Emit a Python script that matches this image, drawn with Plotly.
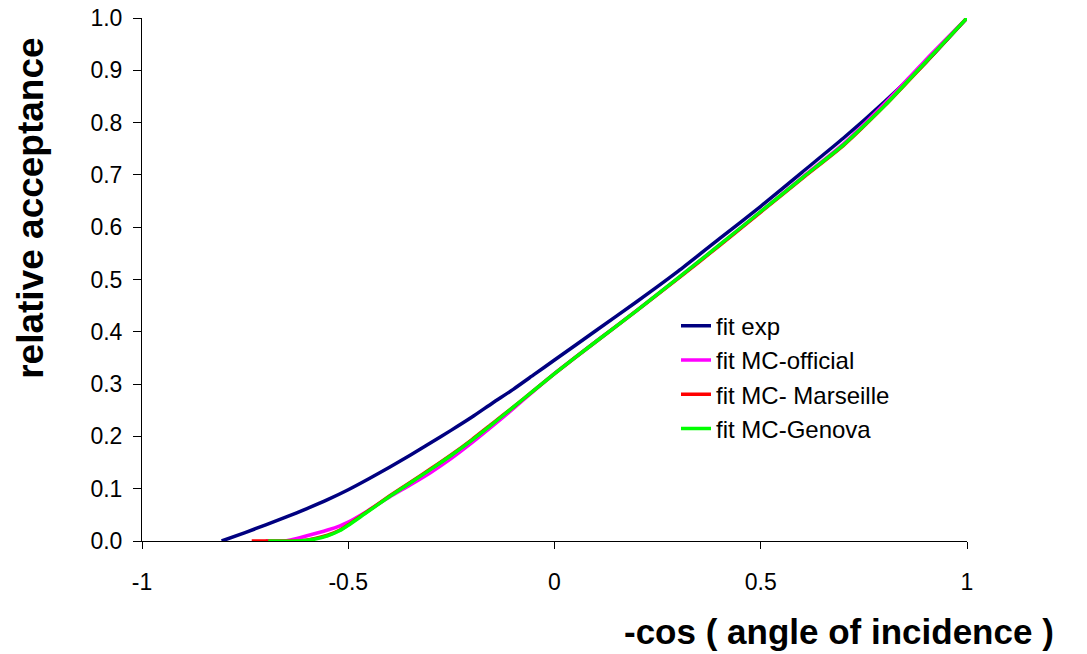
import plotly.graph_objects as go

# ---- data ----
exp_x = [-0.807, -0.75, -0.70, -0.65, -0.60, -0.55, -0.50, -0.45, -0.40, -0.35, -0.30, -0.25,
         -0.20, -0.15, -0.10, -0.05, 0.0, 0.1, 0.2, 0.3, 0.4, 0.5, 0.6, 0.7, 0.8, 0.9, 1.0]
exp_y = [0.0, 0.016, 0.031, 0.046, 0.062, 0.079, 0.098, 0.119, 0.141, 0.164, 0.188, 0.212,
         0.237, 0.264, 0.290, 0.318, 0.346, 0.402, 0.458, 0.516, 0.578, 0.640, 0.705, 0.770,
         0.840, 0.915, 1.0]

off_x = [-0.70, -0.66, -0.64, -0.60, -0.55, -0.52, -0.50, -0.46, -0.44, -0.40, -0.35, -0.30,
         -0.25, -0.20, -0.15, -0.10, -0.05, 0.0, 0.1, 0.2, 0.3, 0.4, 0.5, 0.6, 0.7, 0.8, 0.9, 1.0]
off_y = [0.0, 0.0, 0.002, 0.010, 0.021, 0.029, 0.036, 0.054, 0.064, 0.084, 0.107, 0.131,
         0.158, 0.188, 0.220, 0.253, 0.287, 0.320, 0.381, 0.441, 0.503, 0.566, 0.630, 0.695,
         0.759, 0.836, 0.920, 1.0]

mar_x = [-0.734, -0.66, -0.62, -0.58, -0.55, -0.52, -0.50, -0.46, -0.40, -0.35, -0.30, -0.25,
         -0.20, -0.15, -0.10, -0.05, 0.0, 0.1, 0.2, 0.3, 0.4, 0.5, 0.6, 0.7, 0.8, 0.9, 1.0]
mar_y = [0.0, 0.0, 0.0, 0.005, 0.011, 0.021, 0.031, 0.053, 0.086, 0.112, 0.138, 0.165,
         0.194, 0.225, 0.256, 0.288, 0.320, 0.381, 0.441, 0.502, 0.565, 0.629, 0.693, 0.756,
         0.832, 0.915, 1.0]

gen_x = [-0.694, -0.62, -0.58, -0.55, -0.52, -0.50, -0.46, -0.40, -0.35, -0.30, -0.25, -0.20,
         -0.15, -0.10, -0.05, 0.0, 0.1, 0.2, 0.3, 0.4, 0.5, 0.6, 0.7, 0.8, 0.9, 1.0]
gen_y = [0.0, 0.0, 0.004, 0.010, 0.020, 0.030, 0.052, 0.085, 0.111, 0.137, 0.164, 0.193,
         0.224, 0.256, 0.288, 0.320, 0.381, 0.441, 0.503, 0.566, 0.630, 0.694, 0.757, 0.832,
         0.916, 1.0]

x_tickvals = [-1, -0.5, 0, 0.5, 1]
x_ticktext = ["-1", "-0.5", "0", "0.5", "1"]
y_tickvals = [0.0, 0.1, 0.2, 0.3, 0.4, 0.5, 0.6, 0.7, 0.8, 0.9, 1.0]

series = [
    ("fit exp", exp_x, exp_y, "#000080"),
    ("fit MC-official", off_x, off_y, "#FF00FF"),
    ("fit MC- Marseille", mar_x, mar_y, "#FF0000"),
    ("fit MC-Genova", gen_x, gen_y, "#00FF00"),
]

FONT = "Liberation Sans, Arial, Helvetica, sans-serif"

fig = go.Figure()
for i, (name, xs, ys, col) in enumerate(series):
    fig.add_trace(go.Scatter(x=xs, y=ys, mode="lines", name=name,
                             line=dict(color=col, width=3.5, shape="spline", smoothing=0.5),
                             legendgroup=f"g{i}"))

L, R, T, B = 142, 120, 18, 112.5
pw, ph = 1087 - L - R, 654 - T - B

fig.update_layout(
    width=1087, height=654,
    margin=dict(l=L, r=R, t=T, b=B, autoexpand=False),
    paper_bgcolor="white", plot_bgcolor="white",
    font=dict(family=FONT, color="black", size=23),
    showlegend=True,
    legend=dict(x=(676 - L) / pw, y=(541.5 - 304) / ph, xanchor="left", yanchor="top",
                bgcolor="rgba(0,0,0,0)", borderwidth=0,
                font=dict(family=FONT, size=24, color="black"),
                tracegroupgap=0, itemwidth=30),
    xaxis=dict(range=[-1, 1], tickvals=x_tickvals, ticktext=x_ticktext, automargin=False,
               showgrid=False, zeroline=False, showline=True, linecolor="black",
               linewidth=1, ticks="outside", ticklen=7, tickcolor="black",
               ticklabelstandoff=13, tickfont=dict(size=23, family=FONT)),
    yaxis=dict(range=[0, 1], tickvals=y_tickvals, tickformat=".1f", automargin=False,
               showgrid=False, zeroline=False, showline=True, linecolor="black",
               linewidth=1, ticks="outside", ticklen=8, tickcolor="black",
               ticklabelstandoff=6, tickfont=dict(size=23, family=FONT)),
    annotations=[
        dict(text="<b>relative acceptance</b>", x=(31 - L) / pw, y=(541.5 - 209) / ph,
             xref="paper", yref="paper",
             showarrow=False, textangle=-90, font=dict(size=37, family=FONT, color="black"),
             xanchor="center", yanchor="middle"),
        dict(text="<b>-cos ( angle of incidence )</b>", x=(1056 - L) / pw, y=(541.5 - 632) / ph,
             xref="paper", yref="paper",
             showarrow=False, font=dict(size=35, family=FONT, color="black"),
             xanchor="right", yanchor="middle"),
    ],
)

fig.write_html("out.html")
